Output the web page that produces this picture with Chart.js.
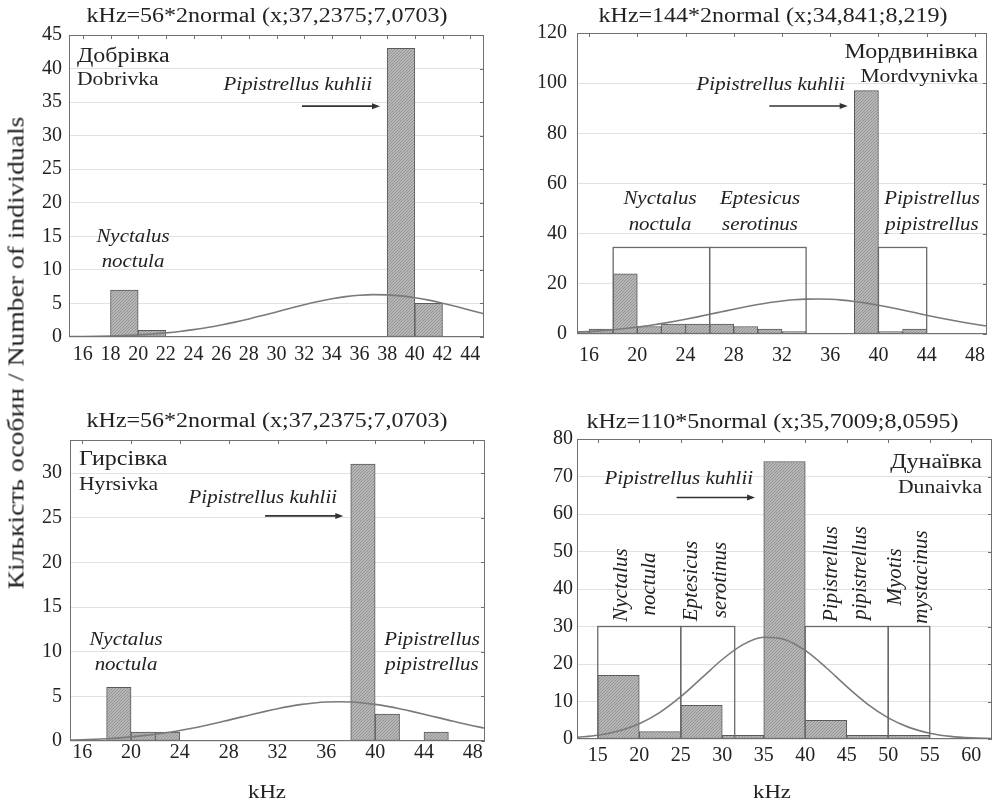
<!DOCTYPE html>
<html><head><meta charset="utf-8">
<script src="https://cdn.jsdelivr.net/npm/chart.js@4.4.1/dist/chart.umd.min.js"></script>
<style>
html,body{margin:0;padding:0;background:#fff;}
body{width:995px;height:804px;position:relative;overflow:hidden;font-family:'Liberation Serif','Times New Roman',serif;}
canvas{position:absolute;}
#ylab{position:absolute;left:16px;top:353px;transform:translate(-50%,-50%) rotate(-90deg) scaleX(1.2);font-size:23px;white-space:nowrap;color:#222;line-height:1;}
</style></head><body>
<canvas id="c1" width="495" height="390" style="left:0;top:0"></canvas>
<canvas id="c2" width="500" height="390" style="left:495px;top:0"></canvas>
<canvas id="c3" width="495" height="414" style="left:0;top:390px"></canvas>
<canvas id="c4" width="500" height="414" style="left:495px;top:390px"></canvas>
<div id="ylab">Кількість особин / Number of individuals</div>
<script>
// ---------- Panel 1: Добрівка ----------
const p1Bins   = [15,17,19,21,23,25,27,29,31,33,35,37,39,41,43,45];
const p1Counts = [0,0,7,1,0,0,0,0,0,0,0,0,43,5,0,0];
const p1CurveX = [15,16,17,18,19,20,21,22,23,24,25,26,27,28,29,30,31,32,33,34,35,36,37,38,39,40,41,42,43,44,45];
const p1CurveY = [0.05,0.07,0.11,0.16,0.23,0.32,0.45,0.62,0.83,1.10,1.41,1.79,2.22,2.69,3.21,3.74,4.28,4.81,5.28,5.69,6.01,6.23,6.32,6.28,6.13,5.86,5.49,5.04,4.54,4.00,3.46];
const p1XTicks = [16,18,20,22,24,26,28,30,32,34,36,38,40,42,44];
const p1YTicks = [0,5,10,15,20,25,30,35,40,45];

// ---------- Panel 2: Мордвинівка ----------
const p2Bins   = [15,17,19,21,23,25,27,29,31,33,35,37,39,41,43,45,47,49];
const p2Counts = [1,2,24,3,4,4,4,3,2,1,0,0,97,1,2,0,0,0];
const p2CurveX = [15,16,17,18,19,20,21,22,23,24,25,26,27,28,29,30,31,32,33,34,35,36,37,38,39,40,41,42,43,44,45,46,47,48,49];
const p2CurveY = [0.76,1.01,1.33,1.71,2.18,2.74,3.39,4.13,4.95,5.86,6.83,7.84,8.87,9.89,10.86,11.75,12.53,13.17,13.63,13.91,13.98,13.84,13.51,12.98,12.30,11.48,10.56,9.57,8.54,7.51,6.51,5.56,4.68,3.88,3.17];
const p2XTicks = [16,20,24,28,32,36,40,44,48];
const p2YTicks = [0,20,40,60,80,100,120];
const p2Ranges = [[18,26],[26,34],[40,44]];
const p2RangeTop = 34.5;

// ---------- Panel 3: Гирсівка ----------
const p3Bins   = [15,17,19,21,23,25,27,29,31,33,35,37,39,41,43,45,47,49];
const p3Counts = [0,0,6,1,1,0,0,0,0,0,0,0,31,3,0,1,0,0];
const p3CurveX = [15,16,17,18,19,20,21,22,23,24,25,26,27,28,29,30,31,32,33,34,35,36,37,38,39,40,41,42,43,44,45,46,47,48,49];
const p3CurveY = [0.10,0.14,0.19,0.26,0.35,0.46,0.60,0.76,0.95,1.18,1.43,1.71,2.01,2.34,2.67,3.00,3.32,3.62,3.88,4.10,4.26,4.37,4.40,4.37,4.26,4.10,3.88,3.62,3.32,3.00,2.67,2.34,2.01,1.71,1.43];
const p3XTicks = [16,20,24,28,32,36,40,44,48];
const p3YTicks = [0,5,10,15,20,25,30];

// ---------- Panel 4: Дунаївка ----------
const p4Bins   = [12.5,17.5,22.5,27.5,32.5,37.5,42.5,47.5,52.5,57.5,62.5];
const p4Counts = [0,17,2,9,1,74,5,1,1,0,0];
const p4CurveX = [12.5,15,17.5,20,22.5,25,27.5,30,32.5,35,37.5,40,42.5,45,47.5,50,52.5,55,57.5,60,62.5];
const p4CurveY = [0.43,1.01,2.13,4.08,7.12,11.28,16.22,21.20,25.16,27.12,26.56,23.62,19.07,13.99,9.32,5.64,3.10,1.55,0.70,0.29,0.11];
const p4XTicks = [15,20,25,30,35,40,45,50,55,60];
const p4YTicks = [0,10,20,30,40,50,60,70,80];
const p4Ranges = [[15,25],[25,31.5],[40,50],[50,55]];
const p4RangeTop = 30;

const FF = "'Liberation Serif','Times New Roman',serif";
const INK = '#222';

function hatch() {
  const c = document.createElement('canvas'); c.width = 3; c.height = 3;
  const g = c.getContext('2d');
  g.fillStyle = '#b6b6b6'; g.fillRect(0,0,3,3);
  g.fillStyle = '#959595';
  g.fillRect(0,2,1,1); g.fillRect(1,1,1,1); g.fillRect(2,0,1,1);
  return g.createPattern(c,'repeat');
}

function makePanel(id, P) {
  const decor = {
    id: 'decor_' + id,
    afterDatasetsDraw(chart) {
      const ctx = chart.ctx, xs = chart.scales.x, ys = chart.scales.y, a = chart.chartArea;
      ctx.save();
      ctx.beginPath(); ctx.rect(a.left, a.top, a.right - a.left, a.bottom - a.top); ctx.clip();
      ctx.strokeStyle = '#6a6a6a'; ctx.lineWidth = 1.3;
      (P.ranges || []).forEach(r => {
        const x0 = xs.getPixelForValue(r[0]), x1 = xs.getPixelForValue(r[1]);
        const yb = ys.getPixelForValue(0), yt = ys.getPixelForValue(P.rangeTop);
        ctx.strokeRect(x0, yt, x1 - x0, yb - yt);
      });
      if (P.arrow) {
        const ax1 = xs.getPixelForValue(P.arrow[0]), ax2 = xs.getPixelForValue(P.arrow[1]), ay = ys.getPixelForValue(P.arrow[2]);
        ctx.strokeStyle = '#333'; ctx.lineWidth = 1.6;
        ctx.beginPath(); ctx.moveTo(ax1, ay); ctx.lineTo(ax2 - 6, ay); ctx.stroke();
        ctx.fillStyle = '#333';
        ctx.beginPath(); ctx.moveTo(ax2, ay); ctx.lineTo(ax2 - 8, ay - 3); ctx.lineTo(ax2 - 8, ay + 3); ctx.closePath(); ctx.fill();
      }
      ctx.restore();
      ctx.save();
      ctx.strokeStyle = '#707070'; ctx.lineWidth = 1;
      ctx.strokeRect(Math.round(a.left) + 0.5, Math.round(a.top) + 0.5, Math.round(a.right - a.left) - 1, Math.round(a.bottom - a.top) - 1);
      ctx.beginPath();
      xs.ticks.forEach(t => {
        const x = Math.round(xs.getPixelForValue(t.value)) + 0.5;
        ctx.moveTo(x, a.top); ctx.lineTo(x, a.top + 4);
      });
      ys.ticks.forEach(t => {
        const y = Math.round(ys.getPixelForValue(t.value)) + 0.5;
        ctx.moveTo(a.right, y); ctx.lineTo(a.right - 4, y);
      });
      ctx.stroke();
      ctx.restore();
    },
    afterDraw(chart) {
      const ctx = chart.ctx;
      P.texts.forEach(T => {
        ctx.save();
        ctx.fillStyle = INK;
        ctx.font = T.f + ' ' + FF;
        ctx.translate(T.x, T.y);
        if (T.rot) ctx.rotate(-Math.PI / 2);
        ctx.scale(T.sx || 1, 1);
        ctx.textAlign = T.al || 'center';
        ctx.textBaseline = T.rot ? 'middle' : 'alphabetic';
        ctx.fillText(T.t, 0, 0);
        ctx.restore();
      });
    }
  };
  return new Chart(document.getElementById(id), {
    type: 'bar',
    data: {
      datasets: [
        {
          type: 'line',
          data: P.curveX.map((x, i) => ({x: x, y: P.curveY[i]})),
          borderColor: '#7a7a7a', borderWidth: 1.6, pointRadius: 0,
          tension: 0.4, cubicInterpolationMode: 'monotone', fill: false, order: 0, clip: 0
        },
        {
          type: 'bar',
          data: P.bins.map((x, i) => ({x: x, y: P.counts[i]})),
          backgroundColor: hatch(), borderColor: '#5a5a5a', borderWidth: 1, borderSkipped: false,
          barPercentage: 1, categoryPercentage: 1, order: 1, clip: 0
        }
      ]
    },
    options: {
      responsive: false, animation: false, devicePixelRatio: 1,
      layout: {padding: {top: P.padTop, right: P.padRight, bottom: 0, left: 0}},
      plugins: {legend: {display: false}, tooltip: {enabled: false}, title: {display: false}},
      scales: {
        x: {
          type: 'linear', min: P.xMin, max: P.xMax, offset: false,
          grid: {display: false, drawTicks: false}, border: {display: false},
          ticks: {font: {family: FF, size: 20}, color: INK, padding: P.xPad, autoSkip: false, maxRotation: 0, callback: v => String(v)},
          afterBuildTicks: s => { s.ticks = P.xTicks.map(v => ({value: v})); },
          afterFit: s => { s.height = P.xH; }
        },
        y: {
          type: 'linear', min: 0, max: P.yMax,
          grid: {color: '#e2e2e2', drawTicks: false, lineWidth: 1}, border: {display: false},
          ticks: {font: {family: FF, size: 20}, color: INK, padding: P.yPad, callback: v => String(v)},
          afterBuildTicks: s => { s.ticks = P.yTicks.map(v => ({value: v})); },
          afterFit: s => { s.width = P.yW; }
        }
      }
    },
    plugins: [decor]
  });
}

const TITLE = '20px', PLACE = '20px', PLACE_L = '18px', SP = 'italic 19px', ROT = 'italic 21px';
const SPX = 1.1;

makePanel('c1', {
  bins: p1Bins, counts: p1Counts, curveX: p1CurveX, curveY: p1CurveY, xTicks: p1XTicks, yTicks: p1YTicks,
  xMin: 15, xMax: 45, yMax: 45, yW: 69, xH: 53, padTop: 35, padRight: 11, xPad: 6, yPad: 7,
  arrow: [31.84, 37.48, 34.4],
  texts: [
    {t: 'kHz=56*2normal (x;37,2375;7,0703)', x: 267, y: 22, f: TITLE, al: 'center', sx: 1.2},
    {t: 'Добрівка', x: 77, y: 62, f: PLACE, al: 'left', sx: 1.2},
    {t: 'Dobrivka', x: 77, y: 85, f: PLACE_L, al: 'left', sx: 1.2},
    {t: 'Pipistrellus kuhlii', x: 372, y: 90, f: SP, al: 'right', sx: SPX},
    {t: 'Nyctalus', x: 133, y: 242, f: SP, al: 'center', sx: SPX},
    {t: 'noctula', x: 133, y: 267, f: SP, al: 'center', sx: SPX}
  ]
});

makePanel('c2', {
  bins: p2Bins, counts: p2Counts, curveX: p2CurveX, curveY: p2CurveY, xTicks: p2XTicks, yTicks: p2YTicks,
  xMin: 15, xMax: 49, yMax: 120, yW: 82, xH: 56, padTop: 33, padRight: 3, xPad: 10, yPad: 10,
  ranges: p2Ranges, rangeTop: p2RangeTop,
  arrow: [30.95, 37.45, 90.9],
  texts: [
    {t: 'kHz=144*2normal (x;34,841;8,219)', x: 278, y: 22, f: TITLE, al: 'center', sx: 1.2},
    {t: 'Мордвинівка', x: 483, y: 58, f: PLACE, al: 'right', sx: 1.2},
    {t: 'Mordvynivka', x: 483, y: 82, f: PLACE_L, al: 'right', sx: 1.2},
    {t: 'Pipistrellus kuhlii', x: 350, y: 90, f: SP, al: 'right', sx: SPX},
    {t: 'Nyctalus', x: 165, y: 204, f: SP, al: 'center', sx: SPX},
    {t: 'noctula', x: 165, y: 230, f: SP, al: 'center', sx: SPX},
    {t: 'Eptesicus', x: 265, y: 204, f: SP, al: 'center', sx: SPX},
    {t: 'serotinus', x: 265, y: 230, f: SP, al: 'center', sx: SPX},
    {t: 'Pipistrellus', x: 437, y: 204, f: SP, al: 'center', sx: SPX},
    {t: 'pipistrellus', x: 437, y: 230, f: SP, al: 'center', sx: SPX}
  ]
});

makePanel('c3', {
  bins: p3Bins, counts: p3Counts, curveX: p3CurveX, curveY: p3CurveY, xTicks: p3XTicks, yTicks: p3YTicks,
  xMin: 15, xMax: 49, yMax: 33.7, yW: 70, xH: 63, padTop: 50, padRight: 10, xPad: 0, yPad: 8,
  arrow: [30.98, 37.39, 25.2],
  texts: [
    {t: 'kHz=56*2normal (x;37,2375;7,0703)', x: 267, y: 37, f: TITLE, al: 'center', sx: 1.2},
    {t: 'Гирсівка', x: 79, y: 75, f: PLACE, al: 'left', sx: 1.2},
    {t: 'Hyrsivka', x: 79, y: 100, f: PLACE_L, al: 'left', sx: 1.2},
    {t: 'Pipistrellus kuhlii', x: 337, y: 113, f: SP, al: 'right', sx: SPX},
    {t: 'Nyctalus', x: 126, y: 255, f: SP, al: 'center', sx: SPX},
    {t: 'noctula', x: 126, y: 280, f: SP, al: 'center', sx: SPX},
    {t: 'Pipistrellus', x: 432, y: 255, f: SP, al: 'center', sx: SPX},
    {t: 'pipistrellus', x: 432, y: 280, f: SP, al: 'center', sx: SPX},
    {t: 'kHz', x: 267, y: 408, f: '19px', al: 'center', sx: 1.2}
  ]
});

makePanel('c4', {
  bins: p4Bins, counts: p4Counts, curveX: p4CurveX, curveY: p4CurveY, xTicks: p4XTicks, yTicks: p4YTicks,
  xMin: 12.5, xMax: 62.5, yMax: 80, yW: 82, xH: 65, padTop: 49, padRight: 3, xPad: 5, yPad: 4,
  ranges: p4Ranges, rangeTop: p4RangeTop,
  arrow: [24.5, 33.95, 64.4],
  texts: [
    {t: 'kHz=110*5normal (x;35,7009;8,0595)', x: 277.5, y: 38, f: TITLE, al: 'center', sx: 1.2},
    {t: 'Дунаївка', x: 487, y: 78, f: PLACE, al: 'right', sx: 1.2},
    {t: 'Dunaivka', x: 487, y: 103, f: PLACE_L, al: 'right', sx: 1.2},
    {t: 'Pipistrellus kuhlii', x: 258, y: 94, f: SP, al: 'right', sx: SPX},
    {t: 'Nyctalus', x: 126.7, y: 195, f: ROT, al: 'center', rot: true},
    {t: 'noctula', x: 154, y: 194, f: ROT, al: 'center', rot: true},
    {t: 'Eptesicus', x: 196.7, y: 191, f: ROT, al: 'center', rot: true},
    {t: 'serotinus', x: 225, y: 190, f: ROT, al: 'center', rot: true},
    {t: 'Pipistrellus', x: 336.7, y: 184, f: ROT, al: 'center', rot: true},
    {t: 'pipistrellus', x: 365, y: 183, f: ROT, al: 'center', rot: true},
    {t: 'Myotis', x: 400, y: 187, f: ROT, al: 'center', rot: true},
    {t: 'mystacinus', x: 426.7, y: 187, f: ROT, al: 'center', rot: true},
    {t: 'kHz', x: 277, y: 408, f: '19px', al: 'center', sx: 1.2}
  ]
});
</script>
</body></html>
